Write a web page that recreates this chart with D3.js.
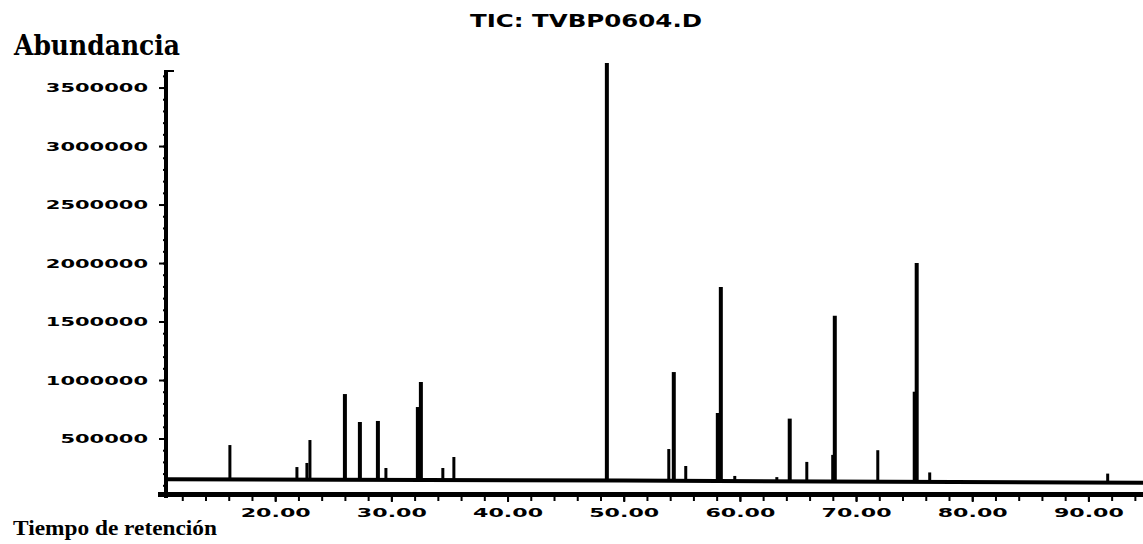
<!DOCTYPE html>
<html>
<head>
<meta charset="utf-8">
<script src="https://cdn.jsdelivr.net/npm/d3@7"></script>
<style>
  body { margin: 0; background: #fff; }
  svg { display: block; }
</style>
</head>
<body>
<div class="chart"></div>
<script>
// chromatogram peaks: retention time (min) and apex abundance
var peakTimes = [16.10, 21.87, 22.73, 22.99, 26.00, 27.29, 28.84, 29.53, 32.28, 32.54,
                 34.43, 35.38, 48.55, 53.88, 54.31, 55.34, 58.10, 58.36, 59.56, 63.18,
                 64.29, 65.76, 67.99, 68.17, 71.87, 75.05, 75.22, 76.34, 91.66];
var peakValues = [444000, 256000, 291000, 487000, 880000, 641000, 650000, 248000, 769000, 983000,
                  248000, 342000, 3710000, 410000, 1068000, 265000, 718000, 1795000, 180000, 170000,
                  670000, 300000, 360000, 1550000, 400000, 900000, 2000000, 210000, 200000];

// baseline drift of the signal
var baselineTimes = [10.6, 50, 94.7];
var baselineValues = [152000, 140000, 122000];

var xTicks = [20, 30, 40, 50, 60, 70, 80, 90];
var yTicks = [500000, 1000000, 1500000, 2000000, 2500000, 3000000, 3500000];

var title = "TIC: TVBP0604.D";
var yTitle = "Abundancia";
var xTitle = "Tiempo de retención";

var w = 1143;
var h = 544;

var svg = d3.select(".chart")
    .append("svg")
    .attr("width", w)
    .attr("height", h);

var x = d3.scaleLinear().domain([10.6, 94.7]).range([166, 1143]);
var y = d3.scaleLinear().domain([0, 3650000]).range([497, 70]);

var baseAt = d3.scaleLinear().domain(baselineTimes).range(baselineValues);

// y axis: labelled majors + minor ticks
svg.append("g")
    .attr("transform", "translate(166,0)")
    .call(d3.axisLeft(y).tickValues(d3.range(100000, 3600001, 100000)).tickSize(3).tickFormat(""))
    .call(function (g) { g.select(".domain").remove(); })
    .selectAll("line").attr("stroke-width", 2);

var yAxis = svg.append("g")
    .attr("transform", "translate(166,0)")
    .call(d3.axisLeft(y).tickValues(yTicks).tickSize(7).tickPadding(11).tickFormat(d3.format("d")));
yAxis.select(".domain").remove();
yAxis.selectAll("line").attr("stroke-width", 2);
yAxis.selectAll("text")
    .attr("font-family", "DejaVu Sans")
    .attr("font-weight", "bold")
    .attr("font-size", 13)
    .attr("fill", "#000")
    .attr("textLength", function (d) { return String(d).length * 14.6; })
    .attr("lengthAdjust", "spacingAndGlyphs");

svg.append("rect")
    .attr("x", 164).attr("y", 70)
    .attr("width", 4).attr("height", 428)
    .attr("fill", "#000");
svg.append("rect")
    .attr("x", 166).attr("y", 70)
    .attr("width", 8).attr("height", 2)
    .attr("fill", "#000");

// x axis: minor ticks every 2 min, labelled every 10
svg.append("g")
    .attr("transform", "translate(0,496)")
    .call(d3.axisBottom(x).tickValues(d3.range(12, 95, 2)).tickSize(5).tickFormat(""))
    .call(function (g) { g.select(".domain").remove(); })
    .selectAll("line").attr("stroke-width", 2);

var xAxis = svg.append("g")
    .attr("transform", "translate(0,496)")
    .call(d3.axisBottom(x).tickValues(xTicks).tickSize(6).tickPadding(6).tickFormat(d3.format(".2f")));
xAxis.select(".domain").remove();
xAxis.selectAll("line").attr("stroke-width", 2);
xAxis.selectAll("text")
    .attr("font-family", "DejaVu Sans")
    .attr("font-weight", "bold")
    .attr("font-size", 13)
    .attr("fill", "#000")
    .attr("textLength", 70)
    .attr("lengthAdjust", "spacingAndGlyphs");

svg.append("rect")
    .attr("x", 158).attr("y", 492)
    .attr("width", w - 158).attr("height", 5)
    .attr("fill", "#000");

// signal baseline
var line = d3.line()
    .x(function (d) { return x(d[0]); })
    .y(function (d) { return y(d[1]); });

svg.append("path")
    .datum(baselineTimes.map(function (t, i) { return [t, baselineValues[i]]; }))
    .attr("d", line)
    .attr("fill", "none")
    .attr("stroke", "#000")
    .attr("stroke-width", 4);

// peaks
svg.append("g")
    .selectAll("line")
    .data(peakTimes)
    .enter().append("line")
    .attr("x1", function (d) { return x(d); })
    .attr("x2", function (d) { return x(d); })
    .attr("y1", function (d) { return y(baseAt(d)); })
    .attr("y2", function (d, i) { return y(peakValues[i]); })
    .attr("stroke", "#000")
    .attr("stroke-width", function (d, i) { return peakValues[i] > 600000 ? 4 : 3; });

// titles
svg.append("text")
    .text(title)
    .attr("x", 586).attr("y", 27)
    .attr("text-anchor", "middle")
    .attr("font-family", "DejaVu Sans")
    .attr("font-weight", "bold")
    .attr("font-size", 17)
    .attr("textLength", 232)
    .attr("lengthAdjust", "spacingAndGlyphs");

svg.append("text")
    .text(yTitle)
    .attr("x", 14).attr("y", 55)
    .attr("font-family", "DejaVu Serif")
    .attr("font-weight", "bold")
    .attr("font-size", 27)
    .attr("textLength", 166)
    .attr("lengthAdjust", "spacingAndGlyphs");

svg.append("text")
    .text(xTitle)
    .attr("x", 13).attr("y", 535)
    .attr("font-family", "Liberation Serif")
    .attr("font-weight", "bold")
    .attr("font-size", 21)
    .attr("textLength", 204)
    .attr("lengthAdjust", "spacingAndGlyphs");
</script>
</body>
</html>
